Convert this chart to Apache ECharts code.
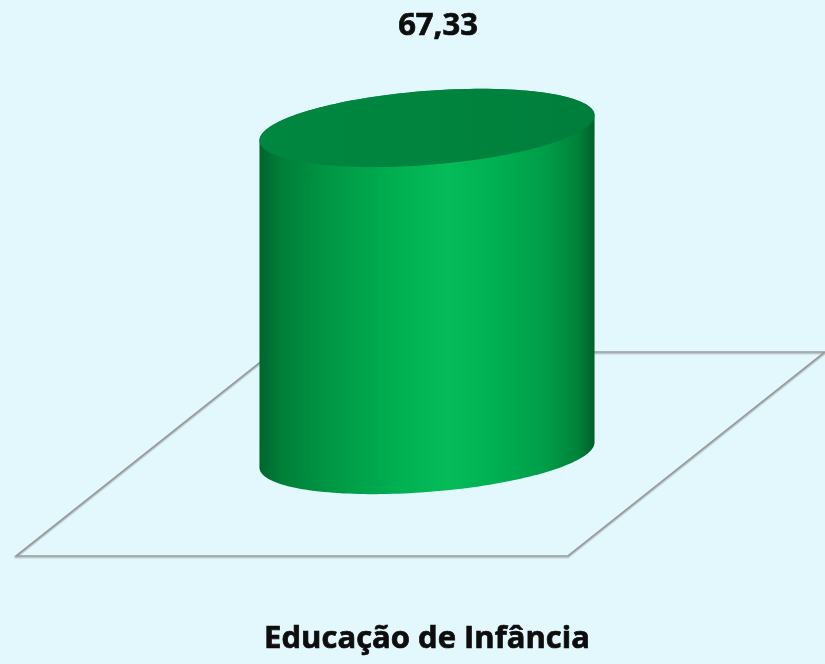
<!DOCTYPE html>
<html>
<head>
<meta charset="utf-8">
<script src="https://cdn.jsdelivr.net/npm/echarts@6/dist/echarts.min.js"></script>
<style>
  html, body { margin: 0; padding: 0; background: #E2F8FC; }
  #chart { width: 825px; height: 664px; }
</style>
</head>
<body>
<div id="chart"></div>
<script>
// Chart data
const categories = ['Educação de Infância'];
const values = [67.33];
const valueLabels = ['67,33'];

const FONT = "'Open Sans', 'Noto Sans', sans-serif";
const TEXT_COLOR = '#0D0D0D';

// Point on a rotated ellipse
function ellipsePoint(cx, cy, a, b, rot, t) {
  const c = Math.cos(rot), s = Math.sin(rot);
  return [cx + a * Math.cos(t) * c - b * Math.sin(t) * s,
          cy + a * Math.cos(t) * s + b * Math.sin(t) * c];
}
function ellipseArc(cx, cy, a, b, rot, t0, t1, n) {
  const pts = [];
  for (let i = 0; i <= n; i++) pts.push(ellipsePoint(cx, cy, a, b, rot, t0 + (t1 - t0) * i / n));
  return pts;
}

function renderCylinder(params, api) {
  const cat = api.value(0);
  const val = api.value(1);
  const base = api.coord([cat, 0]);
  const top = api.coord([cat, val]);
  const band = api.size([1, 0])[0];
  const a = band * 0.2585;
  const b = a * 0.22;
  const rot = -4.5 * Math.PI / 180;
  // parameter of the left / right silhouette points
  const tEdge = Math.atan2(-b * Math.sin(rot), a * Math.cos(rot));

  // floor plane
  const floor = [
    [base[0] - 411, base[1] + 101],
    [base[0] + 141, base[1] + 101],
    [base[0] + 398, base[1] - 103],
    [base[0] - 154, base[1] - 103]
  ];

  // side of the cylinder: front of the base ellipse + back of the top ellipse
  const front = ellipseArc(base[0], base[1], a, b, rot, tEdge, tEdge + Math.PI, 90);
  const back = ellipseArc(top[0], top[1], a, b, rot, tEdge + Math.PI, tEdge + 2 * Math.PI, 90);
  const side = front.concat(back);
  const cap = ellipseArc(top[0], top[1], a, b, rot, 0, Math.PI * 2, 180);

  return {
    type: 'group',
    children: [
      {
        type: 'polygon',
        shape: { points: floor },
        style: {
          fill: 'rgba(0,0,0,0)',
          stroke: '#999999',
          lineWidth: 1.6,
          shadowColor: 'rgba(0,0,0,0.22)',
          shadowBlur: 1,
          shadowOffsetY: 1.5
        }
      },
      {
        type: 'polygon',
        shape: { points: side },
        style: {
          fill: {
            type: 'linear', x: 0, y: 0, x2: 1, y2: 0,
            colorStops: [
              { offset: 0, color: '#00652C' },
              { offset: 0.06, color: '#007D38' },
              { offset: 0.2, color: '#009644' },
              { offset: 0.4, color: '#00AE50' },
              { offset: 0.56, color: '#05BC59' },
              { offset: 0.7, color: '#00B052' },
              { offset: 0.86, color: '#009C47' },
              { offset: 0.95, color: '#00823A' },
              { offset: 1, color: '#00602A' }
            ]
          }
        }
      },
      {
        type: 'polygon',
        shape: { points: cap },
        style: {
          fill: {
            type: 'linear', x: 0, y: 0, x2: 1, y2: 0,
            colorStops: [
              { offset: 0, color: '#00873F' },
              { offset: 0.5, color: '#00843E' },
              { offset: 1, color: '#007E3B' }
            ]
          }
        }
      },
      {
        type: 'text',
        x: top[0] + 11,
        y: top[1] - 102,
        style: {
          text: valueLabels[params.dataIndex],
          fill: TEXT_COLOR,
          font: 'bold 31px ' + FONT,
          stroke: TEXT_COLOR,
          lineWidth: 0.7,
          align: 'center',
          verticalAlign: 'middle'
        }
      }
    ]
  };
}

const chart = echarts.init(document.getElementById('chart'), null, { renderer: 'canvas' });
chart.setOption({
  backgroundColor: '#E2F8FC',
  animation: false,
  grid: { left: 102, width: 650, top: 66.4, bottom: 209 },
  xAxis: {
    type: 'category',
    data: categories,
    axisLine: { show: false },
    axisTick: { show: false },
    axisLabel: {
      margin: 169,
      color: TEXT_COLOR,
      fontFamily: FONT,
      fontWeight: 'bold',
      fontSize: 31,
      textBorderColor: TEXT_COLOR,
      textBorderWidth: 0.7
    }
  },
  yAxis: {
    type: 'value',
    min: 0,
    max: 80,
    show: false
  },
  series: [{
    type: 'custom',
    renderItem: renderCylinder,
    encode: { x: 0, y: 1 },
    data: values.map((v, i) => [i, v])
  }]
});
</script>
</body>
</html>
